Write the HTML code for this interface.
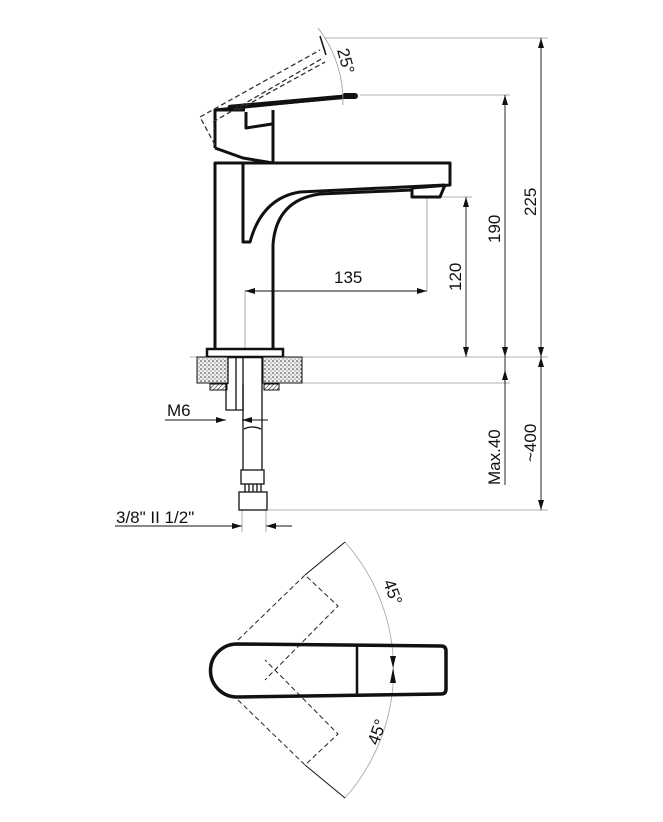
<!DOCTYPE html>
<html><head><style>body{margin:0;background:#fff}svg{display:block}text{font-family:"Liberation Sans",Arial,sans-serif;font-size:17px;fill:#111}</style></head><body>
<svg width="663" height="822" viewBox="0 0 663 822" xmlns="http://www.w3.org/2000/svg">
<defs>
<marker id="a" viewBox="0 0 10 6" refX="10" refY="3" markerWidth="10" markerHeight="6" orient="auto-start-reverse" markerUnits="userSpaceOnUse"><path d="M0,0L10,3L0,6z" fill="#111"/></marker>
<pattern id="st" width="4" height="4" patternUnits="userSpaceOnUse"><rect width="4" height="4" fill="#eee"/><circle cx="1" cy="1" r="0.8" fill="#333"/><circle cx="3" cy="3" r="0.6" fill="#666"/></pattern>
<pattern id="ht" width="3" height="3" patternUnits="userSpaceOnUse" patternTransform="rotate(45)"><rect width="3" height="3" fill="#fff"/><line x1="0" y1="0" x2="0" y2="3" stroke="#222" stroke-width="1.2"/></pattern>
</defs>
<g fill="none" stroke="#999" stroke-width="0.8">
<line x1="325" y1="38" x2="548" y2="38"/><line x1="360" y1="95" x2="510" y2="95"/><line x1="420" y1="197" x2="472" y2="197"/>
<line x1="190" y1="357" x2="548" y2="357"/><line x1="302" y1="383" x2="510" y2="383"/><line x1="268" y1="510" x2="548" y2="510"/>
<line x1="427" y1="197" x2="427" y2="291"/><line x1="245" y1="291" x2="245" y2="357"/>
<line x1="242" y1="510" x2="242" y2="532"/><line x1="266" y1="510" x2="266" y2="532"/>
</g>
<g stroke="#111" stroke-width="0.9" fill="none">
<line x1="541" y1="38" x2="541" y2="357" marker-start="url(#a)" marker-end="url(#a)"/>
<line x1="505" y1="95" x2="505" y2="357" marker-start="url(#a)" marker-end="url(#a)"/>
<line x1="466" y1="197" x2="466" y2="357" marker-start="url(#a)" marker-end="url(#a)"/>
<line x1="245" y1="291" x2="427" y2="291" marker-start="url(#a)" marker-end="url(#a)"/>
<line x1="505" y1="357" x2="505" y2="485" /><line x1="505" y1="383" x2="505" y2="370" marker-end="url(#a)"/>
<line x1="541" y1="357" x2="541" y2="510" marker-start="url(#a)" marker-end="url(#a)"/>
<line x1="165" y1="420" x2="226" y2="420" marker-end="url(#a)"/><line x1="268" y1="420" x2="242" y2="420" marker-end="url(#a)"/>
<line x1="115" y1="526" x2="242" y2="526" marker-end="url(#a)"/><line x1="292" y1="526" x2="266" y2="526" marker-end="url(#a)"/>
</g>
<g stroke="#111" stroke-width="3" fill="none" stroke-linejoin="round">
<path d="M215,350 V163 H450 V185 L412,188"/>
<path d="M243,163 V242 H250 Q262,198 300,192 L445,185"/>
<path d="M273,350 V245 Q276,200 320,194 L412,190"/>
<path d="M412,188 V197 H440 L445,185"/>
<path d="M215,148 V110 L355,96"/>
<path d="M215,148 L243,158 L273,163 V110"/>
<path d="M246,112 V128 L272,124"/>
<path d="M215,110 H245"/>
</g>
<line x1="230" y1="107" x2="353" y2="96" stroke="#111" stroke-width="4.5" stroke-linecap="round"/>
<line x1="345" y1="96" x2="355" y2="96" stroke="#111" stroke-width="6" stroke-linecap="round"/>
<g stroke="#333" stroke-width="1.3" fill="none" stroke-dasharray="5,3">
<path d="M215,145 L200,117 L320,50"/><path d="M213,122 L323,58"/><path d="M238,110 L325,62"/>
</g>
<line x1="320" y1="36" x2="326" y2="55" stroke="#111" stroke-width="1.5"/>
<path d="M318,28 A 120 120 0 0 1 343,105" fill="none" stroke="#999" stroke-width="0.8"/>
<rect x="207" y="349" width="76" height="8" fill="#fff" stroke="#111" stroke-width="2.5"/>
<rect x="197" y="357" width="31" height="26" fill="url(#st)" stroke="#111" stroke-width="1"/>
<rect x="263" y="357" width="39" height="26" fill="url(#st)" stroke="#111" stroke-width="1"/>
<rect x="210" y="384" width="17" height="6" fill="url(#ht)" stroke="#111" stroke-width="1"/>
<rect x="264" y="384" width="15" height="6" fill="url(#ht)" stroke="#111" stroke-width="1"/>
<g stroke="#111" stroke-width="1.3" fill="none">
<line x1="228" y1="357" x2="228" y2="384"/><line x1="236" y1="357" x2="236" y2="410"/>
<path d="M226,384 V410 H243 V384"/>
<line x1="243" y1="357" x2="243" y2="470"/><line x1="262" y1="357" x2="262" y2="470"/>
<path d="M244,429 Q252,425 261,429"/>
<rect x="241" y="470" width="23" height="14"/>
<line x1="245" y1="484" x2="245" y2="492"/><line x1="249" y1="484" x2="249" y2="492"/><line x1="253" y1="484" x2="253" y2="492"/><line x1="257" y1="484" x2="257" y2="492"/><line x1="261" y1="484" x2="261" y2="492"/>
<rect x="239" y="492" width="28" height="18"/>
</g>
<path d="M345,542 A193,193 0 0 1 345,798" fill="none" stroke="#aaa" stroke-width="0.9"/>
<g stroke="#111" stroke-width="1"><line x1="345" y1="542" x2="305" y2="575"/><line x1="345" y1="798" x2="305" y2="765"/></g>
<g stroke="#222" stroke-width="1" fill="none" stroke-dasharray="5,3">
<path d="M238,640 L305,575 L338,606 L265,680"/>
<path d="M238,700 L305,765 L338,734 L265,660"/>
</g>
<path d="M237,644 L441,646 Q446,646 446,651 V689 Q446,694 441,694 L237,697 A26.5,26.5 0 0 1 237,644 Z" fill="none" stroke="#111" stroke-width="3.5"/>
<line x1="357" y1="646" x2="357" y2="695" stroke="#111" stroke-width="2.5"/>
<path d="M390,656 H396 L393,668 L396,683 H390 L393,668 Z" fill="#111"/>
<text x="334" y="283">135</text>
<text transform="translate(461,291) rotate(-90)">120</text>
<text transform="translate(500,243) rotate(-90)">190</text>
<text transform="translate(536,216) rotate(-90)">225</text>
<text transform="translate(500,485) rotate(-90)">Max.40</text>
<text transform="translate(536,462) rotate(-90)">~400</text>
<text transform="translate(337,50) rotate(75)">25°</text>
<text x="167" y="416">M6</text>
<text x="116" y="523">3/8" II 1/2"</text>
<text transform="translate(383,582) rotate(70)">45°</text>
<text transform="translate(378,746) rotate(-70)">45°</text>
</svg>
</body></html>
